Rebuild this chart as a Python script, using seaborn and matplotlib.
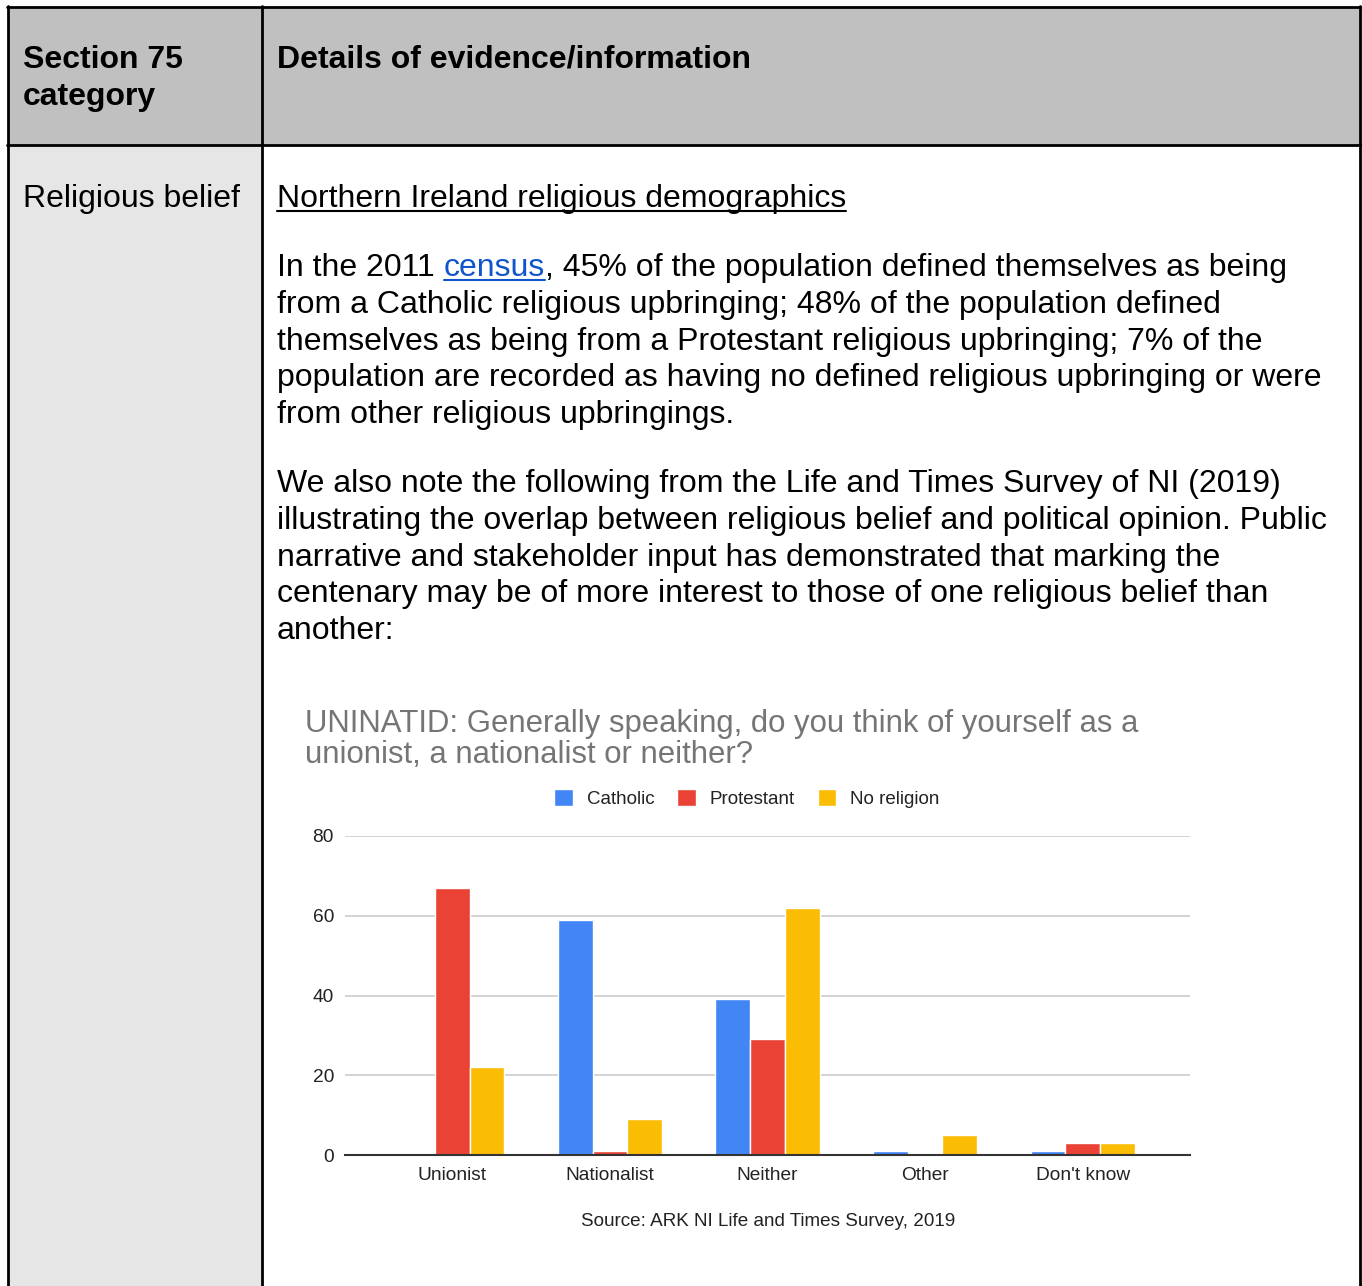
import matplotlib
matplotlib.use("Agg")
import matplotlib.pyplot as plt
import seaborn as sns
import pandas as pd
from matplotlib.patches import Rectangle
from matplotlib.lines import Line2D

# ---------------- data ----------------
categories = ["Unionist", "Nationalist", "Neither", "Other", "Don't know"]
religions = ["Catholic", "Protestant", "No religion"]
catholic = [0, 59, 39, 1, 1]
protestant = [67, 1, 29, 0, 3]
no_religion = [22, 9, 62, 5, 3]
yticks = [0, 20, 40, 60, 80]
colors = ["#4285F4", "#EA4335", "#FBBC04"]

chart_title = ["UNINATID: Generally speaking, do you think of yourself as a",
               "unionist, a nationalist or neither?"]
source_text = "Source: ARK NI Life and Times Survey, 2019"

header_left = ["Section 75", "category"]
header_right = "Details of evidence/information"
row_label = "Religious belief"
subheading = "Northern Ireland religious demographics"
para1 = [
    ("In the 2011 ", "census", ", 45% of the population defined themselves as being"),
    "from a Catholic religious upbringing; 48% of the population defined",
    "themselves as being from a Protestant religious upbringing; 7% of the",
    "population are recorded as having no defined religious upbringing or were",
    "from other religious upbringings.",
]
para2 = [
    "We also note the following from the Life and Times Survey of NI (2019)",
    "illustrating the overlap between religious belief and political opinion. Public",
    "narrative and stakeholder input has demonstrated that marking the",
    "centenary may be of more interest to those of one religious belief than",
    "another:",
]

df = pd.DataFrame({
    "category": categories * 3,
    "religion": sum([[r] * len(categories) for r in religions], []),
    "value": catholic + protestant + no_religion,
})

# ---------------- figure ----------------
sns.set_theme(style="white")
plt.rcParams["font.family"] = ["Liberation Sans", "DejaVu Sans"]

W, H = 1362, 1286
fig = plt.figure(figsize=(W / 100, H / 100), dpi=100)
bg = fig.add_axes([0, 0, 1, 1])
bg.set_xlim(0, W)
bg.set_ylim(H, 0)
bg.axis("off")

# table backgrounds
bg.add_patch(Rectangle((8, 7), 1352, 138, facecolor="#c0c0c0", edgecolor="none", zorder=0))
bg.add_patch(Rectangle((8, 145), 254, H - 145, facecolor="#e6e6e6", edgecolor="none", zorder=0))
# table borders
lw = 2.0
for seg in [((8, 8), (6, H)), ((262, 262), (6, H)), ((1360, 1360), (6, H)),
            ((7, 1361), (7, 7)), ((7, 1361), (145, 145))]:
    bg.add_line(Line2D(seg[0], seg[1], color="black", lw=lw, zorder=2))

FS = 23
txt_kw = dict(fontsize=FS, color="black", va="baseline", ha="left")

# header
bg.text(23, 68, header_left[0], fontweight="bold", **txt_kw)
bg.text(23, 105, header_left[1], fontweight="bold", **txt_kw)
bg.text(277, 68, header_right, fontweight="bold", **txt_kw)
bg.text(23, 207, row_label, **txt_kw)

fig.canvas.draw()
renderer = fig.canvas.get_renderer()
inv = bg.transData.inverted()


def text_x1(t):
    bb = t.get_window_extent(renderer=renderer)
    return inv.transform((bb.x1, bb.y0))[0]


t = bg.text(277, 207, subheading, **txt_kw)
bg.add_line(Line2D((277, text_x1(t)), (211, 211), color="black", lw=1.5))

y = 276
step = 36.8
for line in para1:
    if isinstance(line, tuple):
        a = bg.text(277, y, line[0], **txt_kw)
        x1 = text_x1(a)
        b = bg.text(x1, y, line[1], **{**txt_kw, "color": "#1155cc"})
        x2 = text_x1(b)
        bg.add_line(Line2D((x1, x2), (y + 4, y + 4), color="#1155cc", lw=1.5))
        bg.text(x2, y, line[2], **txt_kw)
    else:
        bg.text(277, y, line, **txt_kw)
    y += step

y = 492
for line in para2:
    bg.text(277, y, line, **txt_kw)
    y += step

# chart title
bg.text(305, 732, chart_title[0], fontsize=22.4, color="#757575", va="baseline")
bg.text(305, 763, chart_title[1], fontsize=22.4, color="#757575", va="baseline")
bg.text(768, 1226, source_text, fontsize=13.6, color="#222222", ha="center", va="baseline")

# ---------------- chart ----------------
ax = fig.add_axes([345 / W, (H - 1155) / H, 845 / W, 319 / H])
sns.barplot(data=df, x="category", y="value", hue="religion", order=categories,
            hue_order=religions, palette=colors, saturation=1, width=0.66,
            edgecolor="white", linewidth=1.0, ax=ax, zorder=3)
ax.set_xlim(-0.68, len(categories) - 1 + 0.68)
ax.set_ylim(0, 80)
ax.set_yticks(yticks)
ax.set_yticklabels([str(v) for v in yticks])
ax.yaxis.grid(True, color="#cccccc", lw=1.2)
ax.set_axisbelow(True)
for s in ["top", "right", "left"]:
    ax.spines[s].set_visible(False)
ax.spines["bottom"].set_color("#333333")
ax.spines["bottom"].set_linewidth(1.5)
ax.spines["bottom"].set_zorder(5)
ax.tick_params(axis="both", length=0, labelsize=13.8, labelcolor="#222222")
ax.tick_params(axis="y", pad=8)
ax.tick_params(axis="x", pad=9)
ax.set_xlabel("")
ax.set_ylabel("")
ax.patch.set_alpha(0)
leg = ax.legend(loc="lower center", bbox_to_anchor=(0.4757, 1.035), ncol=3, frameon=False,
                fontsize=13.5, handlelength=1.0, handleheight=1.0, columnspacing=1.2,
                handletextpad=0.75)
for txt in leg.get_texts():
    txt.set_color("#222222")

fig.savefig("out.png", dpi=100)
